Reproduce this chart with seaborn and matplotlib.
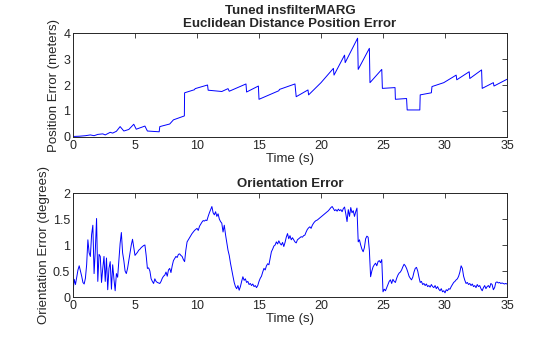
import numpy as np
import pandas as pd
import matplotlib
matplotlib.use("Agg")
import matplotlib.pyplot as plt
from matplotlib.ticker import FuncFormatter
import seaborn as sns

# Position error (m): sampled times and values
pos_time = [0, 0.5, 1.0, 1.4, 1.7, 2.0, 2.4, 2.6, 3.0, 3.2, 3.5, 3.8, 4.1, 4.5, 4.9,
            5.1, 5.8, 6.0, 6.95, 7.0, 7.8, 8.1, 8.98, 9.0, 9.8, 9.85, 10.85, 10.9,
            12.0, 12.5, 12.6, 13.95, 14.0, 14.95, 15.0, 16.6, 16.65, 17.9, 18.0,
            18.95, 19.0, 20.0, 21.0, 21.05, 21.9, 21.95, 22.95, 23.0, 23.9, 23.95,
            24.9, 24.95, 25.97, 26.0, 26.9, 26.95, 27.97, 28.0, 28.9, 28.95, 29.9,
            30.9, 30.95, 31.95, 32.0, 32.95, 33.0, 33.9, 33.95, 35.0]
pos_err = [0.02, 0.03, 0.05, 0.08, 0.05, 0.10, 0.12, 0.08, 0.18, 0.15, 0.22, 0.40,
           0.23, 0.29, 0.49, 0.30, 0.42, 0.23, 0.20, 0.40, 0.50, 0.66, 0.81, 1.70,
           1.82, 1.86, 2.00, 1.80, 1.75, 1.86, 1.76, 2.04, 1.73, 1.96, 1.45, 1.78,
           1.83, 2.04, 1.55, 1.81, 1.62, 2.09, 2.64, 2.38, 3.15, 2.86, 3.80, 2.60,
           3.41, 2.09, 2.60, 1.87, 1.90, 1.45, 1.48, 1.04, 1.04, 1.62, 1.70, 1.94,
           2.09, 2.38, 2.20, 2.51, 2.25, 2.58, 1.87, 2.09, 1.96, 2.22]

# Orientation error (deg), one sample every 0.1 s from 0 to 35 s
ori_err = [
    0.10, 0.34, 0.24, 0.38, 0.52, 0.60, 0.50, 0.40, 0.28, 0.25,
    0.36, 0.62, 1.10, 0.85, 0.78, 1.20, 1.38, 0.45, 0.90, 1.51,
    0.30, 0.82, 0.78, 0.28, 0.55, 0.78, 0.30, 0.75, 0.14, 0.55,
    0.68, 0.15, 0.62, 0.35, 0.12, 0.45, 0.38, 0.70, 1.03, 1.24,
    0.85, 0.70, 0.50, 0.45, 0.55, 0.70, 0.85, 1.00, 1.11, 0.95,
    0.80, 0.83, 0.86, 0.90, 0.92, 0.95, 0.97, 0.99, 1.00, 0.80,
    0.55, 0.56, 0.50, 0.35, 0.30, 0.26, 0.35, 0.30, 0.28, 0.27,
    0.26, 0.30, 0.36, 0.40, 0.42, 0.48, 0.40, 0.52, 0.55, 0.47,
    0.60, 0.70, 0.74, 0.78, 0.76, 0.82, 0.83, 0.80, 0.78, 0.72,
    0.68, 0.90, 1.06, 1.10, 1.14, 1.18, 1.22, 1.25, 1.28, 1.30,
    1.32, 1.28, 1.36, 1.40, 1.44, 1.47, 1.46, 1.48, 1.47, 1.55,
    1.62, 1.68, 1.74, 1.62, 1.58, 1.64, 1.55, 1.60, 1.50, 1.45,
    1.42, 1.25, 1.38, 1.20, 1.05, 0.90, 0.80, 0.65, 0.52, 0.40,
    0.28, 0.20, 0.16, 0.22, 0.13, 0.20, 0.30, 0.39, 0.32, 0.35,
    0.28, 0.30, 0.24, 0.26, 0.22, 0.25, 0.20, 0.22, 0.18, 0.22,
    0.30, 0.36, 0.40, 0.48, 0.55, 0.52, 0.60, 0.64, 0.62, 0.75,
    0.87, 0.92, 0.98, 1.00, 1.06, 1.02, 1.08, 1.03, 1.00, 1.05,
    0.97, 1.05, 1.15, 1.22, 1.12, 1.18, 1.10, 1.14, 1.10, 1.06,
    1.04, 1.10, 1.12, 1.14, 1.16, 1.15, 1.18, 1.19, 1.25, 1.30,
    1.33, 1.35, 1.32, 1.38, 1.42, 1.45, 1.47, 1.48, 1.50, 1.52,
    1.54, 1.56, 1.58, 1.60, 1.62, 1.64, 1.66, 1.69, 1.72, 1.74,
    1.70, 1.66, 1.68, 1.65, 1.69, 1.66, 1.68, 1.64, 1.70, 1.73,
    1.60, 1.45, 1.68, 1.55, 1.72, 1.62, 1.66, 1.55, 1.64, 1.71,
    1.06, 1.10, 1.00, 0.92, 0.87, 0.95, 1.12, 1.17, 1.15, 0.90,
    0.39, 0.50, 0.58, 0.62, 0.65, 0.60, 0.68, 0.70, 0.66, 0.72,
    0.10, 0.15, 0.12, 0.18, 0.24, 0.30, 0.33, 0.26, 0.34, 0.30,
    0.28, 0.36, 0.42, 0.46, 0.48, 0.52, 0.58, 0.63, 0.60, 0.55,
    0.48, 0.40, 0.36, 0.33, 0.38, 0.48, 0.55, 0.57, 0.50, 0.38,
    0.28, 0.30, 0.24, 0.26, 0.22, 0.25, 0.20, 0.22, 0.19, 0.24,
    0.20, 0.18, 0.22, 0.16, 0.20, 0.15, 0.12, 0.16, 0.10, 0.12,
    0.08, 0.14, 0.12, 0.16, 0.15, 0.20, 0.24, 0.28, 0.30, 0.33,
    0.35, 0.40, 0.48, 0.60, 0.55, 0.40, 0.32, 0.26, 0.28, 0.24,
    0.26, 0.22, 0.25, 0.20, 0.22, 0.18, 0.24, 0.20, 0.22, 0.16,
    0.12, 0.18, 0.22, 0.16, 0.20, 0.22, 0.18, 0.26, 0.24, 0.14,
    0.18, 0.28, 0.29, 0.27, 0.28, 0.26, 0.27, 0.26, 0.25, 0.26,
    0.25,
]
ori_time = np.round(np.arange(len(ori_err)) * 0.1, 1)

pos_df = pd.DataFrame({"t": pos_time, "err": pos_err})
ori_df = pd.DataFrame({"t": ori_time, "err": ori_err})

sns.set_style("white")
plt.rcParams["font.family"] = ["Liberation Sans", "DejaVu Sans"]
text_color = "#262626"
edge_color = "#262626"

fig = plt.figure(figsize=(5.6, 3.37), dpi=100)
ax1 = fig.add_axes([73 / 560, 1 - 137 / 337, 434 / 560, 104 / 337])
ax2 = fig.add_axes([73 / 560, 1 - 297 / 337, 434 / 560, 104 / 337])

sns.lineplot(data=pos_df, x="t", y="err", ax=ax1, color="#0000ff", linewidth=0.7,
             estimator=None, sort=False)
sns.lineplot(data=ori_df, x="t", y="err", ax=ax2, color="#0000ff", linewidth=0.7,
             estimator=None, sort=False)

fmt = FuncFormatter(lambda v, _: f"{v:g}")

def style(ax, ylim, yticks, ylabel, title):
    ax.set_xlim(0, 35)
    ax.set_ylim(*ylim)
    ax.set_xticks([0, 5, 10, 15, 20, 25, 30, 35])
    ax.set_yticks(yticks)
    ax.xaxis.set_major_formatter(fmt)
    ax.yaxis.set_major_formatter(fmt)
    ax.tick_params(direction="in", length=3.5, width=0.6, top=True, right=True,
                   colors=edge_color, labelcolor=text_color, labelsize=9, pad=2)
    for s in ax.spines.values():
        s.set_visible(True)
        s.set_color(edge_color)
        s.set_linewidth(0.7)
    ax.set_xlabel("Time (s)", fontsize=9.5, color=text_color, labelpad=1)
    ax.set_ylabel(ylabel, fontsize=9.5, color=text_color, labelpad=2)
    ax.set_title(title, fontsize=9.5, fontweight="bold", color=text_color, pad=4,
                 linespacing=1.15)

style(ax1, (0, 4), [0, 1, 2, 3, 4], "Position Error (meters)",
      "Tuned insfilterMARG\nEuclidean Distance Position Error")
style(ax2, (0, 2), [0, 0.5, 1, 1.5, 2], "Orientation Error (degrees)",
      "Orientation Error")

fig.savefig("out.png", dpi=100, facecolor="white")
